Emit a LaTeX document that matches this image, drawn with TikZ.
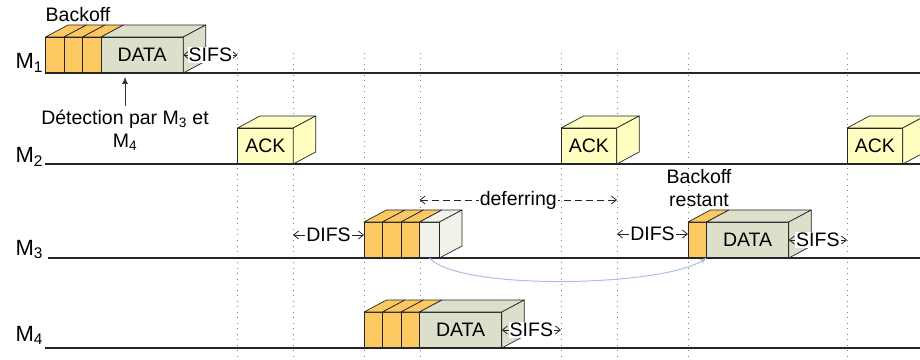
\documentclass[tikz,border=0pt]{standalone}
\usepackage{fontspec}
\setmainfont{Liberation Sans}
\usepackage{tikz}
\usetikzlibrary{arrows.meta,positioning}

\definecolor{slotorange}{HTML}{FCC862}
\definecolor{datagreen}{HTML}{DCE0CA}
\definecolor{ackyellow}{HTML}{FFFFC2}
\definecolor{idlegrey}{HTML}{F1F3EB}
\definecolor{curveblue}{HTML}{A9C0E2}

\begin{document}
\begin{tikzpicture}[
        x=1pt,y=1pt,
        font=\fontsize{19.5}{23}\selectfont,
        node distance=0pt,
        frame/.style={draw=black!85,line width=0.7pt,inner sep=0pt,outer sep=0pt,minimum height=36pt},
        slot/.style={frame,fill=slotorange,minimum width=18.5pt},
        databox/.style={frame,fill=datagreen,minimum width=82.3pt},
        ackbox/.style={frame,fill=ackyellow,minimum width=55.7pt},
        idle/.style={frame,fill=idlegrey,minimum width=20pt},
        facet/.style={draw=black!85,line width=0.7pt,line join=round},
        timeline/.style={line width=2pt,draw=black!85},
        guide/.style={gray,line width=0.9pt,dash pattern=on 0.9pt off 4.6pt},
        gap/.style={{Straight Barb[length=5pt,width=8pt]}-{Straight Barb[length=5pt,width=8pt]},line width=0.8pt,black!85},
        lab/.style={fill=white,inner sep=1pt,text=black},
        station/.style={font=\fontsize{22}{24}\selectfont,anchor=base west}
    ]
        \useasboundingbox (0,0) rectangle (920,359);

        % dotted time marks
        \foreach \x [count=\i] in {237.5,293,364,420,561,617,688,847} {
            \coordinate (g\i) at (\x,306);
            \draw[guide] (g\i) -- (\x,3);
        }

        % stations
        \node[station] (lbl1) at (12,290) {M\textsubscript{1}};
        \node[station] (lbl2) at (12,196) {M\textsubscript{2}};
        \node[station] (lbl3) at (12,104) {M\textsubscript{3}};
        \node[station] (lbl4) at (12,18) {M\textsubscript{4}};

        % M1
        \node[slot,anchor=south west] (m1bo1) at (45.5,286) {};
        \node[slot,right=of m1bo1] (m1bo2) {};
        \node[slot,right=of m1bo2] (m1bo3) {};
        \node[databox,right=of m1bo3] (m1data) {DATA};

        % M2
        \node[ackbox,anchor=south west] (ack1) at (237.5,195) {ACK};
        \node[ackbox,anchor=south west] (ack2) at (561,195) {ACK};
        \node[ackbox,anchor=south west] (ack3) at (847,195) {ACK};

        % M3
        \node[slot,anchor=south west] (m3bo1) at (364,101) {};
        \node[slot,right=of m3bo1] (m3bo2) {};
        \node[slot,right=of m3bo2] (m3bo3) {};
        \node[idle,right=of m3bo3] (m3idle) {};
        \node[slot,anchor=south west] (m3rest) at (688,101) {};
        \node[databox,right=of m3rest] (m3data) {DATA};

        % M4
        \node[slot,anchor=south west] (m4bo1) at (364,11) {};
        \node[slot,right=of m4bo1] (m4bo2) {};
        \node[slot,right=of m4bo2] (m4bo3) {};
        \node[databox,right=of m4bo3] (m4data) {DATA};

        % top and side faces
        \foreach \n/\c in {m1bo1/slotorange,m1bo2/slotorange,m1bo3/slotorange,m1data/datagreen,
                ack1/ackyellow,ack2/ackyellow,ack3/ackyellow,
                m3bo1/slotorange,m3bo2/slotorange,m3bo3/slotorange,m3idle/idlegrey,
                m3rest/slotorange,m3data/datagreen,
                m4bo1/slotorange,m4bo2/slotorange,m4bo3/slotorange,m4data/datagreen}
            \filldraw[fill=\c,facet] (\n.north west) -- ++(22.5,12) -- ([shift={(22.5,12)}]\n.north east) -- (\n.north east) -- cycle;
        \foreach \n/\c in {m1data/datagreen,ack1/ackyellow,ack2/ackyellow,ack3/ackyellow,
                m3idle/idlegrey,m3data/datagreen,m4data/datagreen}
            \filldraw[fill=\c,facet] (\n.north east) -- ++(22.5,12) -- ++(0,-36) -- (\n.south east) -- cycle;

        % time lines
        \foreach \y/\x in {286/45,195/45,101/48,11/45}
            \draw[timeline] (\x,\y) -- (920,\y);

        % labels
        \node (bolabel) at (78,344) {Backoff};
        \node[align=center] (detect) at (125,229) {Détection par M\textsubscript{3} et\\M\textsubscript{4}};
        \node[align=center] (restlabel) at (699,171) {Backoff\\restant};

        % intervals
        \draw[gap] (m1data.east) -- node[lab]{SIFS} (m1data.east -| g1);
        \draw[gap] ([yshift=5pt]m3bo1.west -| g2) -- node[lab]{DIFS} ([yshift=5pt]m3bo1.west);
        \draw[gap,dash pattern=on 7pt off 4pt] ([yshift=22pt]m3idle.north west) -- node[lab]{deferring} ([yshift=22pt]m3idle.north west -| g6);
        \draw[gap] ([yshift=6pt]m3rest.west -| g6) -- node[lab]{DIFS} ([yshift=6pt]m3rest.west);
        \draw[gap] (m3data.east) -- node[lab]{SIFS} (m3data.east -| g8);
        \draw[gap] (m4data.east) -- node[lab]{SIFS} (m4data.east -| g5);

        \draw[-{Latex[length=7pt,width=6pt]},line width=0.8pt,black!80] (detect.north) -- ([yshift=-4pt]detect.north |- m1bo1.south);
        \draw[curveblue,line width=1pt,-{Stealth[length=7pt,width=5pt]}] (m3idle.south) .. controls +(30,-33) and +(-45,-29) .. (m3rest.south east);
    \end{tikzpicture}
\end{document}
